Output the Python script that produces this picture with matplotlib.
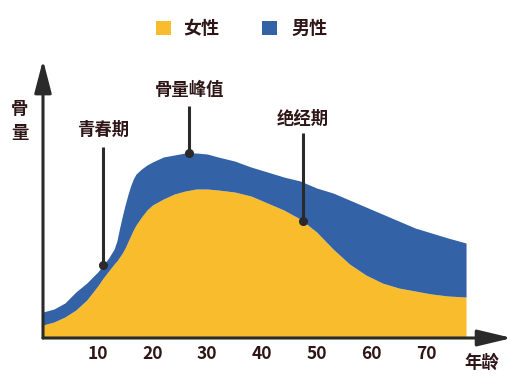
import matplotlib
matplotlib.use('Agg')
import matplotlib.pyplot as plt
from matplotlib.patches import Rectangle
import numpy as np

plt.rcParams['font.family'] = ['Noto Sans CJK SC', 'DejaVu Sans']

# bone mass (schematic) by age
ages = [0, 2, 4, 6, 8, 10, 11, 12, 13, 13.5, 14, 14.5, 15, 15.5, 16, 16.5, 17, 18, 19, 20, 22, 24, 26,
        28, 30, 32, 35, 38, 41, 44, 47, 50, 53, 56, 59, 62, 65, 68, 71, 74, 77.3]
male = [26, 29, 35, 46, 55, 66, 73, 80, 89, 97, 110, 122, 133, 143, 152, 159, 164, 169, 173, 176, 181, 183, 185,
        185, 184, 181, 177, 171, 166, 161, 157, 150, 145, 138, 131, 124, 117, 110, 105, 100, 95]
female = [13, 16, 21, 28, 38, 52, 60, 67, 74, 77, 81, 85, 90, 96, 102, 108, 113, 121, 128, 133, 139, 144, 147,
          149, 149, 148, 146, 142, 135, 128, 119, 106, 89, 74, 63, 55, 50, 47, 44, 42, 41]

xticks = [10, 20, 30, 40, 50, 60, 70]

# annotations: label, age, which curve
annot_labels = ['青春期', '骨量峰值', '绝经期']
annot_ages = [11, 26.7, 47.5]
annot_series = ['male', 'male', 'female']
annot_line_top = [191, 232, 205]
annot_text_y = [208, 248, 219]

yellow = '#F9BC2D'
blue = '#3462A6'
dark = '#2a2a2a'
txt = '#2e1616'

fig = plt.figure(figsize=(5.23, 3.81), dpi=100)
ax = fig.add_axes([43 / 523, 43 / 381, (512 - 43) / 523, (338 - 60) / 381])

ax.fill_between(ages, 0, female, color=yellow, lw=0)
ax.fill_between(ages, female, male, color=blue, lw=0)

ax.set_xlim(0, 85.7)
ax.set_ylim(0, 278)
for s in ax.spines.values():
    s.set_visible(False)
ax.set_yticks([])
ax.set_xticks(xticks)
ax.set_xticklabels([str(t) for t in xticks], fontsize=12.5, color=txt, fontweight='bold')
ax.tick_params(axis='x', length=0, pad=5)

# axis arrows
ax.annotate('', xy=(1, 0), xytext=(0, 0), xycoords='axes fraction',
            arrowprops=dict(arrowstyle='-|>,head_length=1.05,head_width=0.25',
                            mutation_scale=20, lw=2.2, color=dark, shrinkA=0, shrinkB=0))
ax.annotate('', xy=(0, 1), xytext=(0, 0), xycoords='axes fraction',
            arrowprops=dict(arrowstyle='-|>,head_length=1.0,head_width=0.26',
                            mutation_scale=20, lw=2.2, color=dark, shrinkA=0, shrinkB=0))

series = {'male': male, 'female': female}
for lab, a, sname, ltop, ty in zip(annot_labels, annot_ages, annot_series, annot_line_top, annot_text_y):
    yv = np.interp(a, ages, series[sname])
    ax.plot([a, a], [yv, ltop], color=dark, lw=2.2, solid_capstyle='butt')
    ax.plot([a], [yv], 'o', color=dark, ms=5.5)
    ax.text(a, ty, lab, ha='center', va='center', fontsize=12.5, fontweight='bold', color=txt)

fig.text(20 / 523, 1 - 121 / 381, '骨\n量', ha='center', va='center', fontsize=12.5,
         fontweight='bold', color=txt, linespacing=1.45)
fig.text(482 / 523, 1 - 363 / 381, '年龄', ha='center', va='center', fontsize=12.5,
         fontweight='bold', color=txt)

# legend
fig.patches.append(Rectangle((156 / 523, 1 - 35 / 381), 15 / 523, 14 / 381,
                             transform=fig.transFigure, color=yellow, lw=0))
fig.text(183 / 523, 1 - 28 / 381, '女性', ha='left', va='center', fontsize=13,
         fontweight='bold', color=txt)
fig.patches.append(Rectangle((262 / 523, 1 - 35 / 381), 15 / 523, 14 / 381,
                             transform=fig.transFigure, color=blue, lw=0))
fig.text(292 / 523, 1 - 28 / 381, '男性', ha='left', va='center', fontsize=13,
         fontweight='bold', color=txt)

fig.savefig('out.png', dpi=100)
